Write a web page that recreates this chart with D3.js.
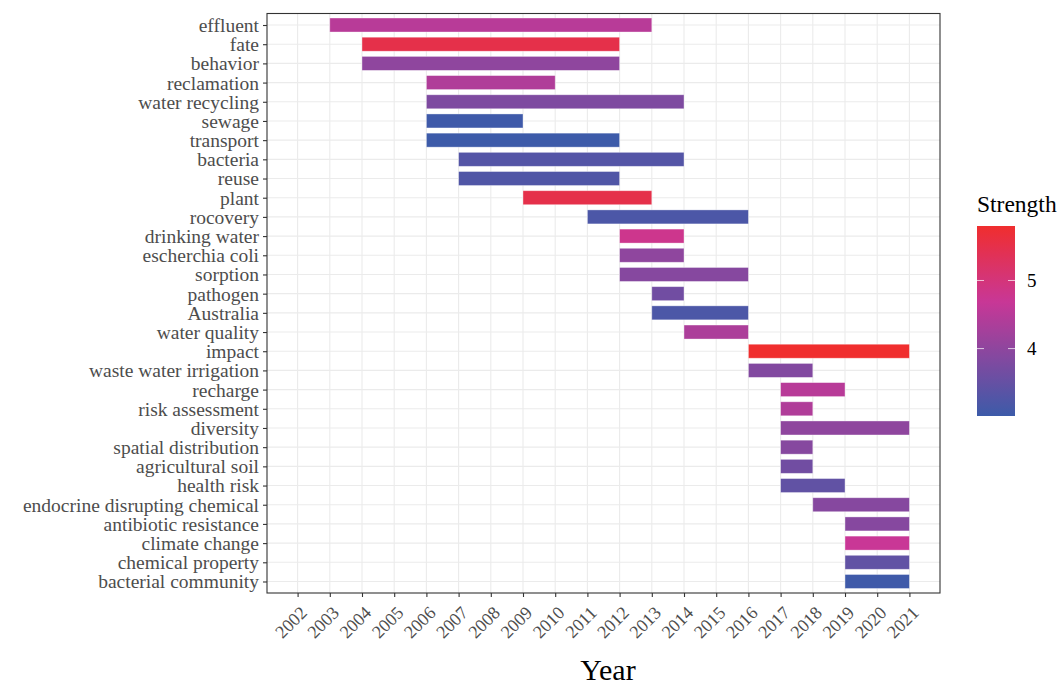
<!DOCTYPE html>
<html>
<head>
<meta charset="utf-8">
<script src="https://cdn.jsdelivr.net/npm/d3@7"></script>
<style>
  body { margin: 0; background: #fff; }
  svg text { font-family: "Liberation Serif", "DejaVu Serif", serif; }
</style>
</head>
<body>
<div id="chart"></div>
<script>
// keywords, burst start/end years and strength
const keywords = ["effluent", "fate", "behavior", "reclamation", "water recycling", "sewage",
  "transport", "bacteria", "reuse", "plant", "rocovery", "drinking water", "escherchia coli",
  "sorption", "pathogen", "Australia", "water quality", "impact", "waste water irrigation",
  "recharge", "risk assessment", "diversity", "spatial distribution", "agricultural soil",
  "health risk", "endocrine disrupting chemical", "antibiotic resistance", "climate change",
  "chemical property", "bacterial community"];
const begin = [2003, 2004, 2004, 2006, 2006, 2006, 2006, 2007, 2007, 2009, 2011, 2012, 2012,
  2012, 2013, 2013, 2014, 2016, 2016, 2017, 2017, 2017, 2017, 2017, 2017, 2018, 2019, 2019,
  2019, 2019];
const end = [2013, 2012, 2012, 2010, 2014, 2009, 2012, 2014, 2012, 2013, 2016, 2014, 2014,
  2016, 2014, 2016, 2016, 2021, 2018, 2019, 2018, 2021, 2018, 2018, 2019, 2021, 2021, 2021,
  2021, 2021];
const strength = [4.5, 5.5, 4.0, 4.4, 3.8, 3.05, 3.02, 3.3, 3.25, 5.5, 3.2, 4.8, 4.0,
  3.9, 3.65, 3.2, 4.35, 5.8, 3.85, 4.5, 4.4, 4.0, 3.9, 3.65, 3.45, 3.9, 3.9, 4.7,
  3.45, 3.05];
const years = d3.range(2002, 2022);
const legendTicks = [4, 5];

const width = 1061, height = 687;
const margin = {top: 13.5, right: 121, bottom: 94, left: 267};

const svg = d3.select("#chart").append("svg")
    .attr("width", width)
    .attr("height", height);

const x = d3.scaleLinear()
    .domain([2002 - 0.95, 2021 + 0.95])
    .range([margin.left, width - margin.right]);

const y = d3.scalePoint()
    .domain(keywords)
    .range([margin.top, height - margin.bottom])
    .padding(0.6);

const sMin = 3.01, sMax = 5.80;
const color = d3.scaleLinear()
    .domain([sMin, 4.7, sMax])
    .range(["#3c5ba9", "#c93796", "#f02e2e"])
    .clamp(true);

// grid
const grid = svg.append("g");
grid.selectAll(".vg").data(years).join("line")
    .attr("x1", d => x(d)).attr("x2", d => x(d))
    .attr("y1", margin.top).attr("y2", height - margin.bottom)
    .attr("stroke", "#ebebeb").attr("stroke-width", 1.1);
grid.selectAll(".hg").data(keywords).join("line")
    .attr("x1", margin.left).attr("x2", width - margin.right)
    .attr("y1", d => y(d)).attr("y2", d => y(d))
    .attr("stroke", "#ebebeb").attr("stroke-width", 1.1);

// bars
const barH = 14;
svg.append("g").selectAll("rect").data(keywords).join("rect")
    .attr("x", (d, i) => x(begin[i]))
    .attr("width", (d, i) => x(end[i]) - x(begin[i]))
    .attr("y", d => y(d) - barH / 2)
    .attr("height", barH)
    .attr("fill", (d, i) => color(strength[i]))
    .attr("stroke", "rgba(255,255,255,0.45)")
    .attr("stroke-width", 0.8);

// panel border
svg.append("rect")
    .attr("x", margin.left).attr("y", margin.top)
    .attr("width", width - margin.right - margin.left)
    .attr("height", height - margin.bottom - margin.top)
    .attr("fill", "none").attr("stroke", "#333").attr("stroke-width", 1.1);

// y axis
const yAxis = svg.append("g")
    .attr("transform", `translate(${margin.left},0)`)
    .call(d3.axisLeft(y).tickSize(4).tickPadding(4));
yAxis.select(".domain").remove();
yAxis.selectAll("line").attr("stroke", "#333").attr("stroke-width", 1.1);
yAxis.selectAll("text")
    .attr("fill", "#4d4d4d")
    .attr("dy", "0.33em")
    .style("font-size", "19.5px");

// x axis
const xAxis = svg.append("g")
    .attr("transform", `translate(0,${height - margin.bottom})`)
    .call(d3.axisBottom(x).tickValues(years).tickFormat(d3.format("d")).tickSize(4));
xAxis.select(".domain").remove();
xAxis.selectAll("line").attr("stroke", "#333").attr("stroke-width", 1.1);
xAxis.selectAll("text")
    .attr("fill", "#4d4d4d")
    .attr("text-anchor", "end")
    .attr("dy", "0.7em")
    .attr("y", 0)
    .attr("transform", "translate(1,12) rotate(-45)")
    .style("font-size", "18px");

// x title
svg.append("text")
    .attr("x", 608)
    .attr("y", 680)
    .attr("text-anchor", "middle")
    .style("font-size", "30px")
    .attr("fill", "#000")
    .text("Year");

// legend
const lgX = 977, lgW = 38, lgTop = 226, lgBot = 416;
const defs = svg.append("defs");
const grad = defs.append("linearGradient").attr("id", "lg")
    .attr("x1", 0).attr("x2", 0).attr("y1", 1).attr("y2", 0);
d3.range(0, 1.0001, 0.05).forEach(t => {
  grad.append("stop").attr("offset", t).attr("stop-color", color(sMin + t * (sMax - sMin)));
});
svg.append("rect")
    .attr("x", lgX).attr("y", lgTop).attr("width", lgW).attr("height", lgBot - lgTop)
    .attr("fill", "url(#lg)");
const ly = d3.scaleLinear().domain([sMin, sMax]).range([lgBot, lgTop]);
const lt = svg.append("g");
lt.selectAll(".l1").data(legendTicks).join("line")
    .attr("x1", lgX).attr("x2", lgX + 7)
    .attr("y1", d => ly(d)).attr("y2", d => ly(d))
    .attr("stroke", "#fff").attr("stroke-opacity", 0.7);
lt.selectAll(".l2").data(legendTicks).join("line")
    .attr("x1", lgX + lgW - 7).attr("x2", lgX + lgW)
    .attr("y1", d => ly(d)).attr("y2", d => ly(d))
    .attr("stroke", "#fff").attr("stroke-opacity", 0.7);
lt.selectAll("text").data(legendTicks).join("text")
    .attr("x", lgX + lgW + 12)
    .attr("y", d => ly(d))
    .attr("dy", "0.35em")
    .style("font-size", "19px")
    .attr("fill", "#000")
    .text(d => d);
svg.append("text")
    .attr("x", lgX)
    .attr("y", 212)
    .style("font-size", "23.5px")
    .attr("fill", "#000")
    .text("Strength");
</script>
</body>
</html>
